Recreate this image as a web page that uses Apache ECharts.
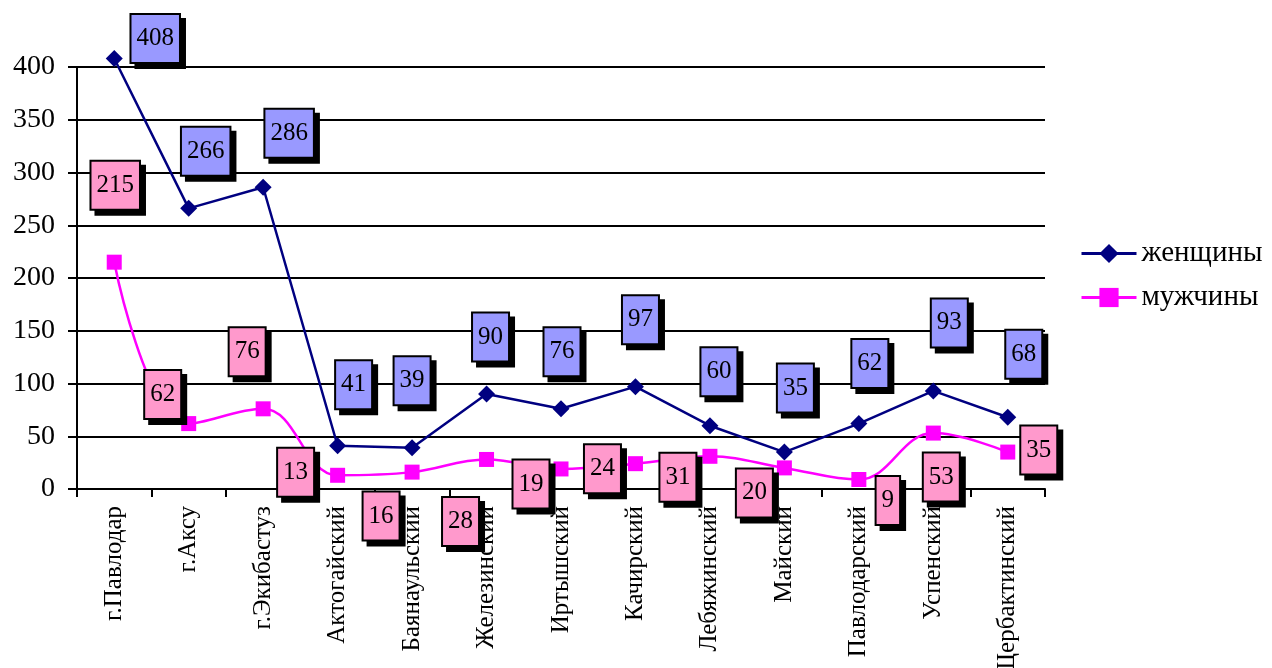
<!DOCTYPE html>
<html>
<head>
<meta charset="utf-8">
<script src="https://cdn.jsdelivr.net/npm/echarts@6/dist/echarts.min.js"></script>
<style>
html, body { margin: 0; padding: 0; background: #fff; }
#main { width: 1272px; height: 668px; }
</style>
</head>
<body>
<div id="main"></div>
<script>
var categories = ['г.Павлодар', 'г.Аксу', 'г.Экибастуз', 'Актогайский', 'Баянаульский', 'Железинский',
    'Иртышский', 'Качирский', 'Лебяжинский', 'Майский', 'Павлодарский', 'Успенский', 'Щербактинский'];
var women = [408, 266, 286, 41, 39, 90, 76, 97, 60, 35, 62, 93, 68];
var men = [215, 62, 76, 13, 16, 28, 19, 24, 31, 20, 9, 53, 35];

// where each value box sits relative to its point (px)
var womenLabelShift = [[41, -20], [17, -57], [26, -54], [16, -61], [0, -67], [4, -57], [1, -57],
    [5, -67], [9, -54], [11, -64], [11, -60], [16, -68], [16, -63]];
var menLabelShift = [[1, -77], [-26, -29], [-16, -57], [-42, -3], [-31, 44], [-26, 62], [-30, 15],
    [-33, 5], [-32, 21], [-30, 25], [29, 21], [8, 44], [31, -2]];

var serif = '"Liberation Serif", "Times New Roman", serif';

function boxLabel(fill) {
    return {
        show: true,
        position: 'inside',
        fontFamily: serif,
        fontSize: 25,
        lineHeight: 27,
        color: '#000',
        backgroundColor: fill,
        borderColor: '#000',
        borderWidth: 2,
        padding: [10, 5],
        shadowColor: '#000',
        shadowBlur: 0,
        shadowOffsetX: 5,
        shadowOffsetY: 5
    };
}

function withShift(values, shifts) {
    return values.map(function (v, i) {
        return { value: v, label: { offset: shifts[i] } };
    });
}

var myChart = echarts.init(document.getElementById('main'));
myChart.setOption({
    animation: false,
    backgroundColor: '#fff',
    grid: { left: 77, right: 227, top: 67, bottom: 179, outerBoundsMode: 'none', containLabel: false },
    legend: {
        orient: 'vertical',
        left: 1075,
        top: 234,
        itemWidth: 55,
        itemHeight: 24,
        itemGap: 15,
        lineStyle: { width: 3 },
        textStyle: { fontFamily: serif, fontSize: 29, color: '#000' },
        data: ['женщины', 'мужчины']
    },
    xAxis: {
        type: 'category',
        data: categories,
        boundaryGap: true,
        axisLine: { lineStyle: { color: '#000', width: 2 } },
        axisTick: { show: true, length: 8, lineStyle: { color: '#000', width: 2 } },
        axisLabel: {
            rotate: 90,
            interval: 0,
            margin: 17,
            fontFamily: serif,
            fontSize: 25,
            color: '#000'
        }
    },
    yAxis: {
        type: 'value',
        min: 0,
        max: 400,
        interval: 50,
        axisLine: { show: true, lineStyle: { color: '#000', width: 2 } },
        axisTick: { show: true, length: 9, lineStyle: { color: '#000', width: 2 } },
        splitLine: { lineStyle: { color: '#000', width: 2 } },
        axisLabel: { margin: 22, fontFamily: serif, fontSize: 28, color: '#000' }
    },
    series: [
        {
            name: 'женщины',
            type: 'line',
            clip: false,
            data: withShift(women, womenLabelShift),
            symbol: 'diamond',
            symbolSize: 17,
            lineStyle: { color: '#000080', width: 2.5 },
            itemStyle: { color: '#000080' },
            label: boxLabel('#9999FF'),
            z: 3
        },
        {
            name: 'мужчины',
            type: 'line',
            clip: false,
            smooth: 0.4,
            data: withShift(men, menLabelShift),
            symbol: 'rect',
            symbolSize: 15,
            lineStyle: { color: '#FF00FF', width: 2.5 },
            itemStyle: { color: '#FF00FF' },
            label: boxLabel('#FF99CC'),
            z: 4
        }
    ]
});
</script>
</body>
</html>
